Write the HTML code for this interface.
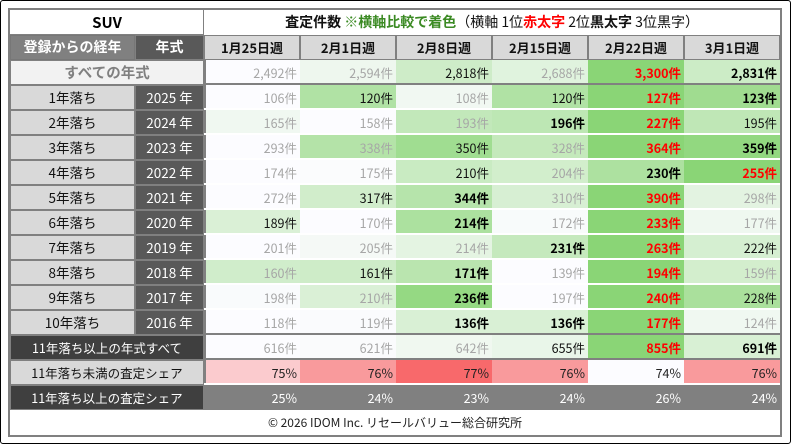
<!DOCTYPE html>
<html><head><meta charset="utf-8">
<style>
html,body{margin:0;padding:0;background:#fff;}
body{width:792px;height:446px;position:relative;overflow:hidden;font-family:"Noto Sans CJK JP","Liberation Sans",sans-serif;}
#outer{position:absolute;left:0;top:0;width:791px;height:444px;border:1px solid #000;box-sizing:border-box;border-radius:3px;}
#frame{position:absolute;left:8px;top:8px;width:774px;height:429px;border:2px solid #808080;box-sizing:border-box;}
table{position:absolute;left:10px;top:10px;border-collapse:separate;border-spacing:0;table-layout:fixed;width:770px;}
td{height:25px;padding:0;font-size:12.5px;white-space:nowrap;overflow:hidden;line-height:25px;}
.t1{text-align:center;font-weight:bold;font-size:15px;box-shadow:inset 0 -1px 0 #808080,inset -1px 0 0 #808080;}
.t2{text-align:center;font-size:14px;color:#111;}
.hl{background:#808080;color:#fff;font-weight:bold;text-align:center;font-size:14px;box-shadow:inset 0 0 0 1px #777;}
.hy{background:#595959;color:#fff;font-weight:bold;text-align:center;font-size:14px;box-shadow:inset 0 0 0 1px #808080;}
.hd{background:#d9d9d9;color:#111;font-weight:bold;text-align:center;font-size:13px;box-shadow:inset 0 0 0 1px #808080;}
.all{background:#f2f2f2;color:#808080;font-weight:bold;text-align:center;font-size:14.5px;box-shadow:inset 0 0 0 1px #808080;}
.lb{background:#d9d9d9;color:#111;text-align:center;font-size:13.5px;box-shadow:inset 0 0 0 1px #808080;}
.yr{background:#595959;color:#fff;text-align:center;font-size:13.5px;box-shadow:inset 0 0 0 1px #808080;}
.dk{background:#3f3f3f;color:#fff;text-align:center;font-size:12.5px;box-shadow:inset 0 0 0 1px #808080;}
.n{text-align:right;padding-right:3px;box-shadow:inset 0 -2px 0 #fff;}
.n.first{box-shadow:inset 0 -2px 0 #fff,inset 2px 0 0 #808080;}
tr.gb td.n{box-shadow:inset 0 -2px 0 #808080;}
tr.gb td.n.first{box-shadow:inset 0 -2px 0 #808080,inset 2px 0 0 #808080;}
tr.p td.n{color:#222;}
tr.s td.n{background:#808080;color:#fff;box-shadow:none;}
.foot{text-align:center;font-size:12px;color:#222;}
.gr{color:#3b8a23;font-weight:bold;}
.rd{color:#f00;font-weight:bold;}
</style></head><body>
<div id="outer"></div>
<div id="frame"></div>
<table>
<colgroup><col style="width:125px"><col style="width:69px"><col style="width:96px"><col style="width:96px"><col style="width:96px"><col style="width:96px"><col style="width:96px"><col style="width:96px"></colgroup>
<tr><td class="t1" colspan="2">SUV</td><td class="t2" colspan="6"><b>査定件数</b> <span class="gr">※横軸比較で着色</span>（横軸 1位<span class="rd">赤太字</span> 2位<b>黒太字</b> 3位黒字）</td></tr>
<tr><td class="hl">登録からの経年</td><td class="hy">年式</td><td class="hd">1月25日週</td><td class="hd">2月1日週</td><td class="hd">2月8日週</td><td class="hd">2月15日週</td><td class="hd">2月22日週</td><td class="hd">3月1日週</td></tr>
<tr class="g gb"><td class="all" colspan="2">すべての年式</td><td class="n first">2,492件</td><td class="n">2,594件</td><td class="n">2,818件</td><td class="n">2,688件</td><td class="n">3,300件</td><td class="n">2,831件</td></tr>
<tr class="g"><td class="lb">1年落ち</td><td class="yr">2025 年</td><td class="n first">106件</td><td class="n">120件</td><td class="n">108件</td><td class="n">120件</td><td class="n">127件</td><td class="n">123件</td></tr>
<tr class="g"><td class="lb">2年落ち</td><td class="yr">2024 年</td><td class="n first">165件</td><td class="n">158件</td><td class="n">193件</td><td class="n">196件</td><td class="n">227件</td><td class="n">195件</td></tr>
<tr class="g"><td class="lb">3年落ち</td><td class="yr">2023 年</td><td class="n first">293件</td><td class="n">338件</td><td class="n">350件</td><td class="n">328件</td><td class="n">364件</td><td class="n">359件</td></tr>
<tr class="g"><td class="lb">4年落ち</td><td class="yr">2022 年</td><td class="n first">174件</td><td class="n">175件</td><td class="n">210件</td><td class="n">204件</td><td class="n">230件</td><td class="n">255件</td></tr>
<tr class="g"><td class="lb">5年落ち</td><td class="yr">2021 年</td><td class="n first">272件</td><td class="n">317件</td><td class="n">344件</td><td class="n">310件</td><td class="n">390件</td><td class="n">298件</td></tr>
<tr class="g"><td class="lb">6年落ち</td><td class="yr">2020 年</td><td class="n first">189件</td><td class="n">170件</td><td class="n">214件</td><td class="n">172件</td><td class="n">233件</td><td class="n">177件</td></tr>
<tr class="g"><td class="lb">7年落ち</td><td class="yr">2019 年</td><td class="n first">201件</td><td class="n">205件</td><td class="n">214件</td><td class="n">231件</td><td class="n">263件</td><td class="n">222件</td></tr>
<tr class="g"><td class="lb">8年落ち</td><td class="yr">2018 年</td><td class="n first">160件</td><td class="n">161件</td><td class="n">171件</td><td class="n">139件</td><td class="n">194件</td><td class="n">159件</td></tr>
<tr class="g"><td class="lb">9年落ち</td><td class="yr">2017 年</td><td class="n first">198件</td><td class="n">210件</td><td class="n">236件</td><td class="n">197件</td><td class="n">240件</td><td class="n">228件</td></tr>
<tr class="g gb"><td class="lb">10年落ち</td><td class="yr">2016 年</td><td class="n first">118件</td><td class="n">119件</td><td class="n">136件</td><td class="n">136件</td><td class="n">177件</td><td class="n">124件</td></tr>
<tr class="g gb"><td class="dk" colspan="2">11年落ち以上の年式すべて</td><td class="n first">616件</td><td class="n">621件</td><td class="n">642件</td><td class="n">655件</td><td class="n">855件</td><td class="n">691件</td></tr>
<tr class="p"><td class="lb" colspan="2" style="font-size:12.5px">11年落ち未満の査定シェア</td><td class="n first">75%</td><td class="n">76%</td><td class="n">77%</td><td class="n">76%</td><td class="n">74%</td><td class="n">76%</td></tr>
<tr class="s"><td class="dk" colspan="2">11年落ち以上の査定シェア</td><td class="n">25%</td><td class="n">24%</td><td class="n">23%</td><td class="n">24%</td><td class="n">26%</td><td class="n">24%</td></tr>
<tr><td class="foot" colspan="8">© 2026 IDOM Inc. リセールバリュー総合研究所</td></tr>
</table>
<script>
function mix(a,b,t){return 'rgb('+a.map((v,i)=>Math.round(v+(b[i]-v)*t)).join(',')+')';}
var W=[252,252,255],G=[138,213,118],P=[248,105,107];
document.querySelectorAll('tr.g,tr.p').forEach(function(tr){
 var cs=[].slice.call(tr.querySelectorAll('td.n'));
 var v=cs.map(c=>parseFloat(c.textContent.replace(/[^0-9.]/g,'')));
 var mn=Math.min.apply(0,v),mx=Math.max.apply(0,v);
 var isG=tr.classList.contains('g');
 cs.forEach(function(c,i){
  var t=mx>mn?(v[i]-mn)/(mx-mn):0;
  c.style.background=mix(W,isG?G:P,t);
  if(isG){
   var rank=1+v.filter(x=>x>v[i]).length;
   if(rank==1){c.style.color='#f00';c.style.fontWeight='bold';}
   else if(rank==2){c.style.color='#000';c.style.fontWeight='bold';}
   else if(rank==3){c.style.color='#111';c.style.fontWeight='normal';}
   else {c.style.color='#a6a6a6';c.style.fontWeight='normal';}
  }
 });
});
</script>
</body></html>
